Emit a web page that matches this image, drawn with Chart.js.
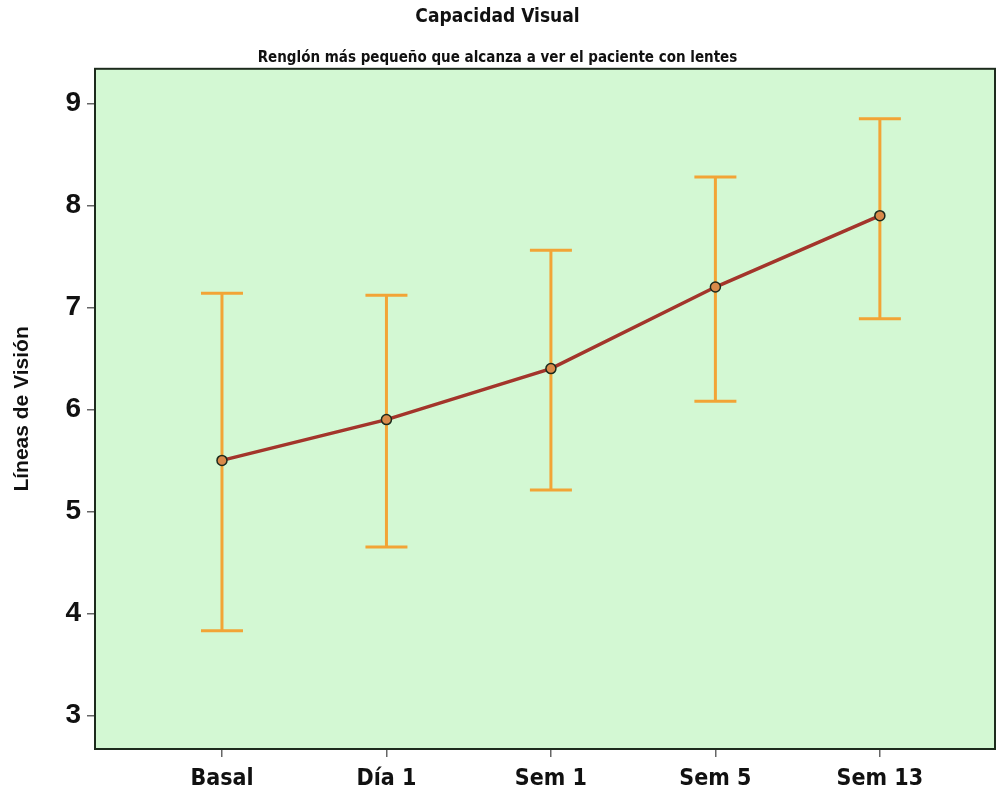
<!DOCTYPE html>
<html>
<head>
<meta charset="utf-8">
<script src="https://cdn.jsdelivr.net/npm/chart.js@4"></script>
<style>
  body { margin: 0; background: #fff; }
  #wrap { width: 1005px; height: 801px; }
</style>
</head>
<body>
<div id="wrap"><canvas id="CHARTVISION"></canvas></div>
<script>
const categorias = ['Basal', 'Día 1', 'Sem 1', 'Sem 5', 'Sem 13'];
const medias = [5.5, 5.9, 6.4, 7.2, 7.9];
const limInferior = [3.83, 4.65, 5.21, 6.08, 6.89];
const limSuperior = [7.14, 7.12, 7.56, 8.28, 8.85];
const ticksY = [3, 4, 5, 6, 7, 8, 9];

const fuenteManual = '"Liberation Sans Narrow", "DejaVu Sans Condensed", sans-serif';

// fondo verde y marco del area de la grafica
const fondo = {
  id: 'fondo',
  beforeDraw(chart) {
    const a = chart.chartArea, c = chart.ctx;
    c.save();
    c.fillStyle = '#d3f8d3';
    c.fillRect(a.left, a.top, a.right - a.left, a.bottom - a.top);
    c.restore();
  },
  afterDraw(chart) {
    const a = chart.chartArea, c = chart.ctx;
    c.save();
    c.strokeStyle = '#1d2b1d';
    c.lineWidth = 2;
    c.strokeRect(a.left, a.top, a.right - a.left, a.bottom - a.top);
    c.restore();
  }
};

// barras de error
const barrasError = {
  id: 'barrasError',
  beforeDatasetsDraw(chart) {
    const x = chart.scales.x, y = chart.scales.y, c = chart.ctx;
    c.save();
    c.strokeStyle = '#f2a436';
    c.lineWidth = 3;
    limInferior.forEach((lo, i) => {
      const px = x.getPixelForValue(i);
      const pLo = y.getPixelForValue(lo);
      const pHi = y.getPixelForValue(limSuperior[i]);
      c.beginPath();
      c.moveTo(px, pLo); c.lineTo(px, pHi);
      c.moveTo(px - 21, pLo); c.lineTo(px + 21, pLo);
      c.moveTo(px - 21, pHi); c.lineTo(px + 21, pHi);
      c.stroke();
    });
    c.restore();
  }
};

new Chart(document.getElementById('CHARTVISION'), {
  type: 'line',
  data: {
    datasets: [{
      label: 'Media',
      data: medias.map((v, i) => ({ x: i, y: v })),
      borderColor: '#a3352b',
      borderWidth: 3.5,
      pointRadius: 5,
      pointBackgroundColor: '#d98a4a',
      pointBorderColor: '#1c2a1c',
      pointBorderWidth: 1.5,
      tension: 0
    }]
  },
  options: {
    responsive: true,
    maintainAspectRatio: false,
    animation: false,
    layout: { padding: { left: 0, right: 10, top: 0, bottom: 0 } },
    plugins: {
      legend: { display: false },
      tooltip: { enabled: false },
      title: {
        display: true,
        text: 'Capacidad Visual',
        color: '#111',
        font: { family: fuenteManual, size: 19, weight: 'bold' },
        padding: { top: 6, bottom: 4 }
      },
      subtitle: {
        display: true,
        text: 'Renglón más pequeño que alcanza a ver el paciente con lentes',
        color: '#111',
        font: { family: fuenteManual, size: 15, weight: 'bold' },
        padding: { top: 16, bottom: 2 }
      }
    },
    scales: {
      x: {
        type: 'linear',
        min: -0.772,
        max: 4.70,
        afterBuildTicks(axis) { axis.ticks = categorias.map((c, i) => ({ value: i })); },
        afterFit(axis) { axis.height = 52; },
        ticks: {
          callback: v => categorias[v],
          color: '#111',
          padding: 8,
          maxRotation: 0,
          font: { family: fuenteManual, size: 23, weight: 'bold' }
        },
        grid: { drawOnChartArea: false, drawTicks: true, tickLength: 8, color: '#666', lineWidth: 1.5 },
        border: { display: false }
      },
      y: {
        min: 2.67,
        max: 9.34,
        afterBuildTicks(axis) { axis.ticks = ticksY.map(v => ({ value: v })); },
        afterFit(axis) { axis.width = 95; },
        ticks: {
          color: '#111',
          padding: 6,
          font: { family: '"Liberation Sans", Arial, sans-serif', size: 28, weight: 'bold' }
        },
        grid: { drawOnChartArea: false, drawTicks: true, tickLength: 8, color: '#666', lineWidth: 1.5 },
        border: { display: false },
        title: {
          display: true,
          text: 'Líneas de Visión',
          color: '#111',
          padding: { top: 10, bottom: 0 },
          font: { family: '"Liberation Sans", Arial, sans-serif', size: 21, weight: 'bold' }
        }
      }
    }
  },
  plugins: [fondo, barrasError]
});
</script>
</body>
</html>
